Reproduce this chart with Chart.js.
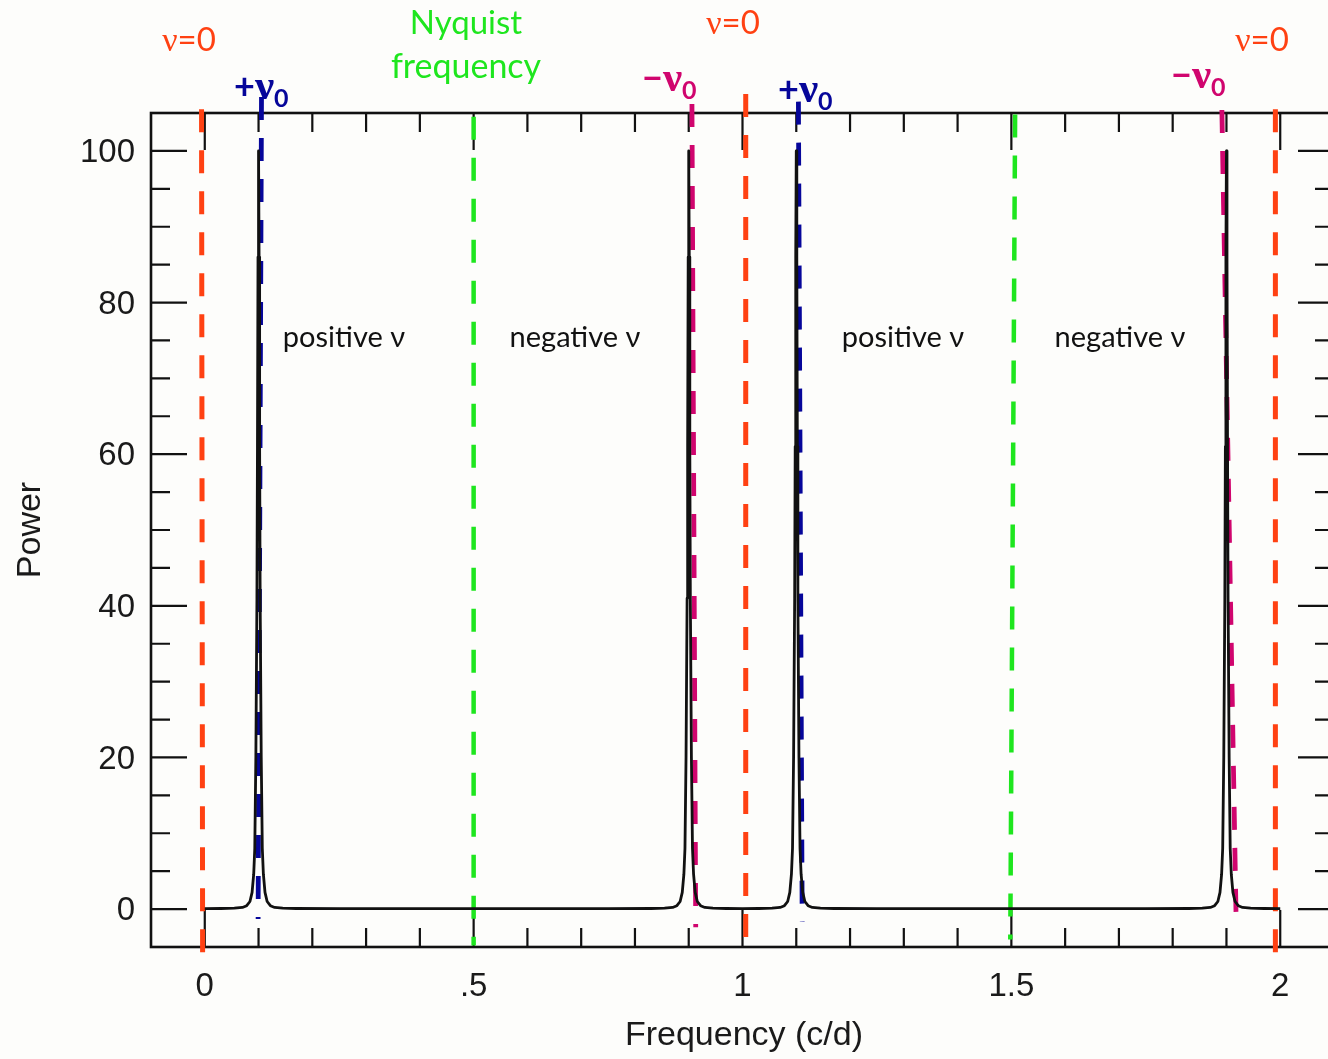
<!DOCTYPE html>
<html>
<head>
<meta charset="utf-8">
<title>Power spectrum</title>
<script src="https://cdn.jsdelivr.net/npm/chart.js@4/dist/chart.umd.min.js"></script>
<style>
  html, body { margin: 0; padding: 0; overflow: hidden; background: #fdfdfb; }
  #plot { display: block; }
</style>
</head>
<body>
<canvas id="plot" width="1340" height="1059"></canvas>
<script>
// Periodogram values (frequency in c/d, power)
const freqs = [
  0, 0.03, 0.055, 0.07, 0.078, 0.084, 0.088, 0.091, 0.093, 0.095, 0.097, 0.098, 0.099, 0.1,
  0.101, 0.102, 0.103, 0.105, 0.107, 0.109, 0.112, 0.116, 0.122, 0.13, 0.145, 0.17,
  0.25, 0.4, 0.6, 0.75,
  0.83, 0.855, 0.87, 0.878, 0.884, 0.888, 0.891, 0.893, 0.895, 0.897, 0.898, 0.899, 0.9,
  0.901, 0.902, 0.903, 0.905, 0.907, 0.909, 0.912, 0.916, 0.922, 0.93, 0.945, 0.97,
  1.0,
  1.03, 1.055, 1.07, 1.078, 1.084, 1.088, 1.091, 1.093, 1.095, 1.097, 1.098, 1.099, 1.1,
  1.101, 1.102, 1.103, 1.105, 1.107, 1.109, 1.112, 1.116, 1.122, 1.13, 1.145, 1.17,
  1.25, 1.4, 1.6, 1.75,
  1.83, 1.855, 1.87, 1.878, 1.884, 1.888, 1.891, 1.893, 1.895, 1.897, 1.898, 1.899, 1.9,
  1.901, 1.902, 1.903, 1.905, 1.907, 1.909, 1.912, 1.916, 1.922, 1.93, 1.945, 1.97, 2.0
];
const power = [
  0.05, 0.08, 0.12, 0.22, 0.45, 1, 2.2, 4.6, 8, 20, 41, 61, 86, 100,
  86, 61, 41, 20, 8, 4.6, 2.2, 1, 0.45, 0.22, 0.12, 0.08,
  0.06, 0.05, 0.05, 0.06,
  0.08, 0.12, 0.22, 0.45, 1, 2.2, 4.6, 8, 20, 41, 61, 86, 100,
  86, 61, 41, 20, 8, 4.6, 2.2, 1, 0.45, 0.22, 0.12, 0.08,
  0.07,
  0.08, 0.12, 0.22, 0.45, 1, 2.2, 4.6, 8, 20, 41, 61, 86, 100,
  86, 61, 41, 20, 8, 4.6, 2.2, 1, 0.45, 0.22, 0.12, 0.08,
  0.06, 0.05, 0.05, 0.06,
  0.08, 0.12, 0.22, 0.45, 1, 2.2, 4.6, 8, 20, 41, 61, 86, 100,
  86, 61, 41, 20, 8, 4.6, 2.2, 1, 0.45, 0.22, 0.12, 0.08, 0.05
];

// Marker lines: frequency at the top and bottom end, power at each end
const zeroTopX = [-0.006, 1.006, 1.991];
const zeroBottomX = [-0.004, 1.006, 1.991];
const zeroTopY = [105.5, 107.5, 105.5];
const zeroBottomY = [-6.2, -4.2, -6.2];

const nyquistTopX = [0.5, 1.507];
const nyquistBottomX = [0.5, 1.498];
const nyquistTopY = [104.5, 104.8];
const nyquistBottomY = [-4.8, -4];

const plusTopX = [0.1055, 1.104];
const plusBottomX = [0.0992, 1.111];
const plusTopY = [107.1, 106.5];
const plusBottomY = [-1.3, -1.7];

const minusTopX = [0.906, 1.8915];
const minusBottomX = [0.913, 1.918];
const minusTopY = [106.2, 105.4];
const minusBottomY = [-2.4, -1.5];

// Axis ticks
const xMinorTicks = [];
for (let i = 0; i <= 20; i++) xMinorTicks.push(i / 10);
const xMajorTicks = [0, 0.5, 1, 1.5, 2];
const xTickLabels = ["0", ".5", "1", "1.5", "2"];
const yMinorTicks = [];
for (let i = 0; i <= 20; i++) yMinorTicks.push(i * 5);
const yMajorTicks = [0, 20, 40, 60, 80, 100];
const yTickLabels = ["0", "20", "40", "60", "80", "100"];

const RED = "#ff4112";
const GREEN = "#1ee61e";
const BLUE = "#06069a";
const MAGENTA = "#d0056e";
const INK = "#111111";

const AXIS_FONT = '"Liberation Sans", Arial, Helvetica, sans-serif';
const NOTE_FONT = 'Lato, "Open Sans", sans-serif';
const GREEK_FONT = '"Liberation Serif", "DejaVu Serif", serif';

function guide(topX, bottomX, topY, bottomY, color, width) {
  return topX.map((x, i) => ({
    data: [{ x: x, y: topY[i] }, { x: bottomX[i], y: bottomY[i] }],
    borderColor: color,
    borderWidth: width,
    borderDash: [23, 18],
    borderCapStyle: "butt",
    pointRadius: 0,
    clip: false,
    tension: 0,
  }));
}

const spectrum = {
  data: freqs.map((f, i) => ({ x: f, y: power[i] })),
  borderColor: INK,
  borderWidth: 2.8,
  borderJoinStyle: "round",
  pointRadius: 0,
  tension: 0,
};

// Annotation text, each a list of runs with their own font
const zeroLabel = (x, y) => ({
  x, y, color: RED, align: "center",
  runs: [
    { t: "ν", f: "34px " + GREEK_FONT },
    { t: "=0", f: "33px " + NOTE_FONT },
  ],
});
const nuLabel = (sign, x, y, color) => ({
  x, y, color, align: "left",
  runs: [
    { t: sign, f: "bold 36px " + NOTE_FONT },
    { t: "ν", f: "bold 43px " + GREEK_FONT },
    { t: "0", f: "bold 25px " + NOTE_FONT, dy: 8 },
  ],
});
const plain = (text, x, y, color, size) => ({
  x, y, color, align: "center",
  runs: [{ t: text, f: size + "px " + NOTE_FONT }],
});

const notes = [
  zeroLabel(189, 51),
  plain("Nyquist", 466, 34, GREEN, 33),
  plain("frequency", 466, 78, GREEN, 34),
  zeroLabel(733, 34),
  zeroLabel(1262, 51),
  nuLabel("+", 234, 99, BLUE),
  nuLabel("−", 642, 91, MAGENTA),
  nuLabel("+", 778, 102, BLUE),
  nuLabel("−", 1171, 88, MAGENTA),
  plain("positive ν", 344, 347, INK, 29),
  plain("negative ν", 575, 347, INK, 29),
  plain("positive ν", 903, 347, INK, 29),
  plain("negative ν", 1120, 347, INK, 29),
];

function drawRuns(ctx, note) {
  ctx.fillStyle = note.color;
  ctx.textAlign = "left";
  ctx.textBaseline = "alphabetic";
  const widths = note.runs.map((r) => {
    ctx.font = r.f;
    return ctx.measureText(r.t).width;
  });
  const total = widths.reduce((a, b) => a + b, 0);
  let x = note.align === "center" ? note.x - total / 2 : note.x;
  note.runs.forEach((r, i) => {
    ctx.font = r.f;
    ctx.fillText(r.t, x, note.y + (r.dy || 0));
    x += widths[i];
  });
}

const frame = {
  id: "frame",
  beforeDraw(chart) {
    const ctx = chart.ctx;
    ctx.save();
    ctx.fillStyle = "#fdfdfb";
    ctx.fillRect(0, 0, chart.width, chart.height);
    ctx.restore();
  },
  beforeDatasetsDraw(chart) {
    const { ctx, chartArea: a, scales } = chart;
    const xs = scales.x, ys = scales.y;
    ctx.save();
    ctx.strokeStyle = INK;
    ctx.lineCap = "butt";

    ctx.lineWidth = 2.6;
    ctx.strokeRect(a.left, a.top, a.right - a.left, a.bottom - a.top);

    ctx.lineWidth = 2.2;
    ctx.beginPath();
    xMinorTicks.forEach((v) => {
      const px = xs.getPixelForValue(v);
      const len = xMajorTicks.includes(v) ? 37 : 19;
      ctx.moveTo(px, a.bottom);
      ctx.lineTo(px, a.bottom - len);
      ctx.moveTo(px, a.top);
      ctx.lineTo(px, a.top + len);
    });
    yMinorTicks.forEach((v) => {
      const py = ys.getPixelForValue(v);
      const len = yMajorTicks.includes(v) ? 36 : 19;
      ctx.moveTo(a.left, py);
      ctx.lineTo(a.left + len, py);
      ctx.moveTo(a.right, py);
      ctx.lineTo(a.right - len, py);
    });
    ctx.stroke();

    ctx.fillStyle = "#1a1a1a";
    ctx.font = "33px " + AXIS_FONT;
    ctx.textAlign = "center";
    ctx.textBaseline = "alphabetic";
    xMajorTicks.forEach((v, i) => {
      ctx.fillText(xTickLabels[i], xs.getPixelForValue(v), 996);
    });
    ctx.textAlign = "right";
    ctx.textBaseline = "middle";
    yMajorTicks.forEach((v, i) => {
      ctx.fillText(yTickLabels[i], 135, ys.getPixelForValue(v) + 2);
    });

    ctx.font = "34px " + AXIS_FONT;
    ctx.textAlign = "center";
    ctx.textBaseline = "alphabetic";
    ctx.fillText("Frequency (c/d)", 744, 1045);
    ctx.save();
    ctx.translate(40, 530);
    ctx.rotate(-Math.PI / 2);
    ctx.fillText("Power", 0, 0);
    ctx.restore();
    ctx.restore();
  },
  afterDraw(chart) {
    const ctx = chart.ctx;
    ctx.save();
    notes.forEach((n) => drawRuns(ctx, n));
    ctx.restore();
  },
};

new Chart(document.getElementById("plot"), {
  type: "line",
  data: {
    datasets: [
      spectrum,
      ...guide(zeroTopX, zeroBottomX, zeroTopY, zeroBottomY, RED, 5),
      ...guide(nyquistTopX, nyquistBottomX, nyquistTopY, nyquistBottomY, GREEN, 4.5),
      ...guide(plusTopX, plusBottomX, plusTopY, plusBottomY, BLUE, 4.8),
      ...guide(minusTopX, minusBottomX, minusTopY, minusBottomY, MAGENTA, 4.8),
    ],
  },
  options: {
    responsive: false,
    animation: false,
    layout: { padding: { left: 151, right: 6, top: 113, bottom: 112 } },
    plugins: { legend: { display: false }, tooltip: { enabled: false } },
    scales: {
      x: { type: "linear", min: -0.1, max: 2.1, display: false },
      y: { type: "linear", min: -5, max: 105, display: false },
    },
  },
  plugins: [frame],
});
</script>
</body>
</html>
